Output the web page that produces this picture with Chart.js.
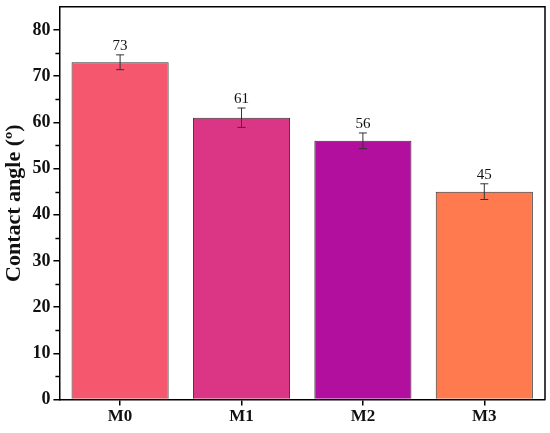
<!DOCTYPE html>
<html lang="en">
<head>
  <meta charset="UTF-8">
  <title>Contact angle</title>
  <style>
    body { margin: 0; background: #fff; overflow: hidden; }
    #wrap { width: 550px; height: 440px; margin-top: -7px; }
  </style>
</head>
<body>
  <div id="wrap"><canvas id="chart"></canvas></div>
  <script src="https://cdn.jsdelivr.net/npm/chart.js"></script>
  <script>
    // data
    const samples = ['M0', 'M1', 'M2', 'M3'];
    const angles = [73, 61, 56, 45];
    const errors = [1.6, 2.1, 1.7, 1.7];
    const barColors = ['#F5576E', '#DB3586', '#B30F9F', '#FF7A4F'];
    const yTicks = [0, 10, 20, 30, 40, 50, 60, 70, 80];

    const serif = '"Liberation Serif", "Times New Roman", serif';

    // error bars, value labels, minor ticks and the box frame
    const extras = {
      id: 'extras',
      afterDatasetsDraw(chart) {
        const ctx = chart.ctx;
        const x = chart.scales.x, y = chart.scales.y;
        const area = chart.chartArea;
        ctx.save();
        ctx.strokeStyle = '#333';
        ctx.lineWidth = 1;
        angles.forEach((v, i) => {
          const cx = x.getPixelForValue(i);
          const top = y.getPixelForValue(v + errors[i]);
          const bot = y.getPixelForValue(v - errors[i]);
          ctx.beginPath();
          ctx.moveTo(cx, top); ctx.lineTo(cx, bot);
          ctx.moveTo(cx - 4, top); ctx.lineTo(cx + 4, top);
          ctx.moveTo(cx - 4, bot); ctx.lineTo(cx + 4, bot);
          ctx.stroke();
          ctx.fillStyle = '#111';
          ctx.font = '15px ' + serif;
          ctx.textAlign = 'center';
          ctx.textBaseline = 'bottom';
          ctx.fillText(String(v), cx, top - 1);
        });
        // minor ticks on y
        ctx.strokeStyle = '#000';
        ctx.lineWidth = 1.5;
        for (let t = 5; t < 85; t += 10) {
          const py = Math.round(y.getPixelForValue(t)) + 0.5;
          ctx.beginPath();
          ctx.moveTo(area.left - 4, py); ctx.lineTo(area.left, py);
          ctx.stroke();
        }
        // frame top and right
        ctx.beginPath();
        ctx.moveTo(area.left, area.top);
        ctx.lineTo(area.right, area.top);
        ctx.lineTo(area.right, area.bottom);
        ctx.stroke();
        ctx.restore();
      }
    };

    new Chart(document.getElementById('chart'), {
      type: 'bar',
      data: {
        labels: samples,
        datasets: [{
          data: angles,
          backgroundColor: barColors,
          borderColor: '#333',
          borderWidth: 1,
          categoryPercentage: 1,
          barPercentage: 0.8
        }]
      },
      options: {
        responsive: true,
        maintainAspectRatio: false,
        animation: false,
        layout: { padding: { top: 0, right: 5, left: 1, bottom: 5 } },
        plugins: { legend: { display: false }, tooltip: { enabled: false } },
        scales: {
          x: {
            grid: { offset: false, drawOnChartArea: false, drawTicks: true, tickLength: 6, color: '#000', lineWidth: 1.5 },
            border: { color: '#000', width: 1.5 },
            ticks: { color: '#111', font: { family: serif, size: 17, weight: 'bold' }, padding: 1 }
          },
          y: {
            min: 0,
            max: 85,
            afterBuildTicks(axis) { axis.ticks = yTicks.map(v => ({ value: v })); },
            grid: { drawOnChartArea: false, drawTicks: true, tickLength: 6, color: '#000', lineWidth: 1.5 },
            border: { color: '#000', width: 1.5 },
            ticks: { color: '#111', font: { family: serif, size: 18, weight: 'bold' }, padding: 3 },
            title: {
              display: true,
              text: 'Contact angle (º)',
              color: '#111',
              font: { family: serif, size: 22, weight: 'bold' },
              padding: { top: 0, bottom: 2 }
            }
          }
        }
      },
      plugins: [extras]
    });
  </script>
</body>
</html>
